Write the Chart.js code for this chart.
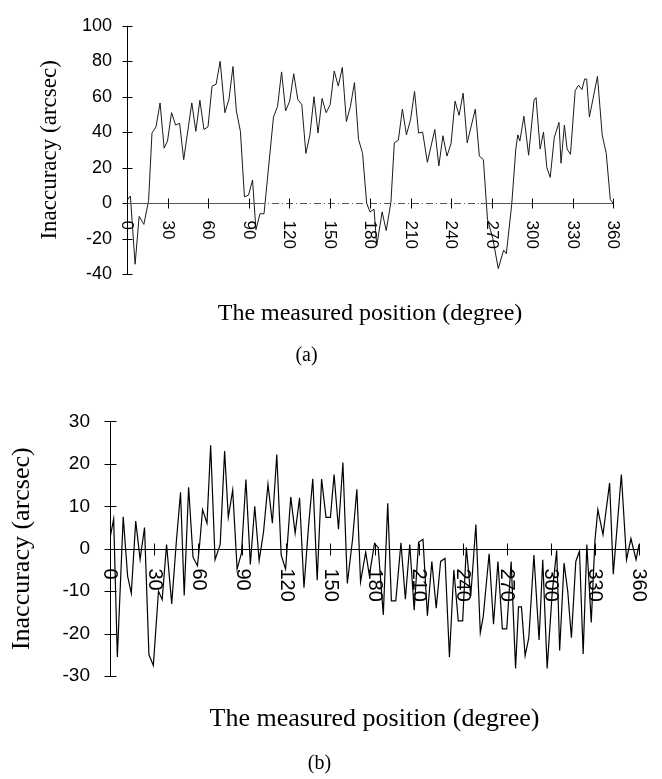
<!DOCTYPE html>
<html><head><meta charset="utf-8">
<script src="https://cdn.jsdelivr.net/npm/chart.js@4.4.1/dist/chart.umd.min.js"></script>
<style>
html,body{margin:0;padding:0;background:#fff;}
body{width:662px;height:779px;position:relative;overflow:hidden;}
canvas{position:absolute;left:0;}
#ca{top:0px}
#cb{top:390px}
</style></head><body>
<canvas id="ca" width="662" height="390"></canvas>
<canvas id="cb" width="662" height="389"></canvas>
<script>
// ---- data (a) ----
const positionsA = [0,2.5,6,9,12.5,16,18.5,21.5,24.5,27.5,30,33,36,39,42,48,51,54,57,60,63,66,69,72.5,75.5,78.5,81,84,87,90,93,95.5,98.5,101.5,108.5,111.5,114.5,117.5,120.5,123.5,126.5,129.5,132.5,135.5,138.5,141.5,144.5,147.5,150.5,153.5,156.5,159.5,162.5,165.5,168.5,171.5,174.5,177.5,180,183,185,189,192,195.5,198,201,204,207,210,213,216,219,222.5,228,231,234,237,240,243,246,249,252,258,261,264,267,271,275,279,281,285,288,289.5,291,294,297.5,301.5,303,306,308.5,311,313.5,316.5,320,321.5,324,326,328.5,332,334.5,337,339,340.5,342.5,348.5,352,355,358,360];
const valuesA = [1.5,4,-34.5,-7.5,-12,1.5,39.5,43,56.5,31,35,51,44,45,24.5,56.5,40.5,58,41.5,43,66,67,80,51,58.5,77,52,40.5,3.5,4.5,13,-15,-6,-6,48.5,54.5,74,52,57.5,73,58.5,55.5,28,38.5,60,39.5,59,51,55.5,74.5,66,76.5,46,54.5,68,36,28,0,-5,-3.5,-24,-5,-15.5,0.5,34,35.5,53,38.5,47,63,39.5,40,23,41.5,21,38,26.5,33.5,57.5,49.5,62,34,53,26.5,24.5,-9,-20,-37,-26.5,-28.5,-0.5,30.5,38.5,35,49,27,58,59.5,30.5,40,20,14.5,37,45.5,22.5,44,30.5,27.5,63.5,66.5,64,70,70,48.5,71.5,38.5,28,2,0];

// ---- data (b) ----
const positionsB = [0,2.5,5,9,12,14.5,17.5,20.5,23.5,26.5,29.5,33,35.5,38.5,42,45,48,50.5,53.5,56.5,59.5,61,63,66,68.5,71.5,75,78,80.5,83.5,86.5,89.5,92.5,95.5,98.5,101.5,104.5,107.5,110.5,113.5,116.5,119.5,123,126,129,132,135,138,141,144,147,150,152.5,155.5,158.5,161.5,165,168,170.5,174,176.5,180,182.5,186,189,191.5,194.5,198,201,204,207,210,213,216,219,222,225,228,231,234,237,240,242.5,245.5,249,252,254,258,261,264,267,270,273,276,278,280,282.5,285,288.5,292,294.5,297.5,301,304,306,309,311.5,314,317,319.5,322,324.5,327.5,330,332,335.5,340,342.5,348,351.5,354.5,358,360];
const valuesB = [2.5,7,-25.5,7.5,-6.5,-10.5,6.5,-2.5,5,-25,-27.5,-10,-12,1,-13,1,13.3,-11,14.5,-2,-4,1,9.2,6,24.4,-2.6,1,23,7.4,13.8,-4.8,-1,16.3,-3.7,10,-2.8,4,15.2,6,22.2,-1.5,-4.8,12.2,3.7,12,-9.2,4.8,16.5,-7.4,16.4,7.4,7.4,17.5,4.6,20.3,-8.2,2,14,-7.8,-0.8,-6.3,1.2,0.3,-15.6,10.7,-12.3,-12.3,1.4,-11.9,1,-14.5,1.5,2.2,-15.8,-3,-14,-3,-2.3,-25.6,-5,-17,-17,0.3,-11.2,5.7,-19.8,-16,-1.2,-17.8,-3,-18.9,-18.9,-3,-28.2,-13.7,-13.7,-25.2,-21,-1.5,-21.5,-2.6,-28.2,-10,-0.4,-24,-3.4,-10,-21,-3,-0.6,-24.8,1,-17.4,1.8,9.2,3.3,15.5,-6,17.5,-2.6,2.4,-2.6,1];

// ---- tick labels / texts ----
const xTickValues = [0,30,60,90,120,150,180,210,240,270,300,330,360];
const xTickLabels = ['0','30','60','90','120','150','180','210','240','270','300','330','360'];
const yTitleText = 'Inaccuracy (arcsec)';
const xTitleText = 'The measured position (degree)';
const captionA = '(a)';
const captionB = '(b)';

Chart.defaults.color = '#000';
Chart.defaults.font.family = "'Liberation Sans', Arial, sans-serif";

const crossAxes = {
  id: 'crossAxes',
  afterDatasetsDraw(chart, args, o) {
    const {ctx, chartArea} = chart;
    const x = chart.scales.x, y = chart.scales.y;
    ctx.save();
    ctx.lineWidth = 1;
    ctx.strokeStyle = o.color;
    const ax = Math.round(chartArea.left) + 0.5;
    ctx.beginPath();
    ctx.moveTo(ax, y.getPixelForValue(y.max));
    ctx.lineTo(ax, y.getPixelForValue(y.min));
    y.ticks.forEach(t => {
      const py = Math.round(y.getPixelForValue(t.value)) + 0.5;
      ctx.moveTo(ax - o.tick, py); ctx.lineTo(ax + o.tick, py);
    });
    ctx.stroke();
    const y0 = Math.round(y.getPixelForValue(0)) + 0.5;
    ctx.strokeStyle = o.xColor;
    const segs = o.segments;
    segs.forEach(s => {
      ctx.beginPath();
      ctx.setLineDash(s.dash || []);
      ctx.moveTo(x.getPixelForValue(s.from), y0);
      ctx.lineTo(x.getPixelForValue(s.to), y0);
      ctx.stroke();
    });
    ctx.setLineDash([]);
    ctx.strokeStyle = o.color;
    ctx.beginPath();
    xTickValues.forEach(v => {
      const px = Math.round(x.getPixelForValue(v)) + 0.5;
      ctx.moveTo(px, y0 - o.tick); ctx.lineTo(px, y0 + o.tick);
    });
    ctx.stroke();
    ctx.fillStyle = '#000';
    ctx.font = o.font;
    ctx.textAlign = 'left';
    ctx.textBaseline = 'middle';
    xTickValues.forEach((v, i) => {
      const px = x.getPixelForValue(v);
      ctx.save();
      ctx.translate(px, y0 + o.gap);
      ctx.rotate(Math.PI / 2);
      ctx.fillText(xTickLabels[i], 0, 0);
      ctx.restore();
    });
    ctx.restore();
  }
};

function makeChart(id, cfg) {
  const pts = cfg.pos.map((p, i) => ({x: p, y: cfg.vals[i]}));
  return new Chart(document.getElementById(id), {
    type: 'line',
    data: { datasets: [{ data: pts, borderColor: cfg.lineColor, borderWidth: cfg.lineWidth, pointRadius: 0, tension: 0, fill: false }] },
    options: {
      responsive: false, animation: false, devicePixelRatio: 1,
      layout: { padding: cfg.padding },
      plugins: {
        legend: { display: false }, tooltip: { enabled: false },
        title: { display: true, text: cfg.caption, position: 'bottom', color: '#000',
          font: { family: "'Liberation Serif', 'Times New Roman', serif", size: 20, weight: 'normal', lineHeight: 1.2 },
          padding: { top: 0, bottom: cfg.capPad } },
        crossAxes: cfg.axes
      },
      scales: {
        x: { type: 'linear', min: 0, max: 360, position: 'bottom',
          grid: { display: false, drawTicks: false }, border: { display: false },
          ticks: { display: false },
          title: { display: true, text: xTitleText, color: '#000',
            font: { family: "'Liberation Serif', 'Times New Roman', serif", size: cfg.xTitleSize, weight: 'normal', lineHeight: 1.2 },
            padding: { top: 0, bottom: cfg.xTitlePad } },
          afterFit: s => { s.height = cfg.xHeight; } },
        y: { min: cfg.ymin, max: cfg.ymax,
          grid: { display: false, drawTicks: false }, border: { display: false },
          ticks: { stepSize: cfg.step, padding: cfg.yTickPad, color: '#000', font: { size: cfg.yTickSize } },
          title: { display: true, text: yTitleText, color: '#000',
            font: { family: "'Liberation Serif', 'Times New Roman', serif", size: cfg.yTitleSize, weight: 'normal', lineHeight: 1.2 },
            padding: { top: cfg.yTitlePad, bottom: 0 } },
          afterFit: s => { s.width = cfg.yWidth; } }
      }
    },
    plugins: [crossAxes]
  });
}

makeChart('ca', {
  pos: positionsA, vals: valuesA, caption: captionA, lineColor: '#1a1a1a', lineWidth: 1,
  padding: { top: 12, right: 49, bottom: 0, left: 0 },
  capPad: 22, xTitleSize: 24, xTitlePad: 16, xHeight: 70,
  ymin: -40, ymax: 100, step: 20, yTickPad: 15, yTickSize: 18, yTitleSize: 23, yTitlePad: 36, yWidth: 127,
  axes: { color: '#000', xColor: '#555', tick: 5, gap: 17, font: "17px 'Liberation Sans', Arial, sans-serif",
    segments: [ {from: 0, to: 97}, {from: 97, to: 262, dash: [7, 3, 1, 3]}, {from: 262, to: 360} ] }
});

makeChart('cb', {
  pos: positionsB, vals: valuesB, caption: captionB, lineColor: '#000', lineWidth: 1.2,
  padding: { top: 16, right: 23, bottom: 0, left: 0 },
  capPad: 3, xTitleSize: 26, xTitlePad: 17, xHeight: 76,
  ymin: -30, ymax: 30, step: 10, yTickPad: 20, yTickSize: 19, yTitleSize: 26, yTitlePad: 7, yWidth: 110,
  axes: { color: '#000', xColor: '#000', tick: 6, gap: 19, font: "20px 'Liberation Sans', Arial, sans-serif",
    segments: [ {from: 0, to: 360} ] }
});
</script>
</body></html>
